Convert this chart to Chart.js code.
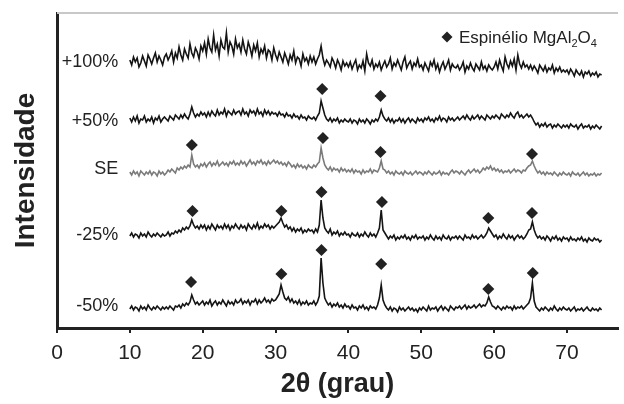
<!DOCTYPE html>
<html>
<head>
<meta charset="utf-8">
<script src="https://cdn.jsdelivr.net/npm/chart.js@4/dist/chart.umd.min.js"></script>
<style>
  body { margin: 0; background: #fff; }
  canvas { display: block; }
</style>
</head>
<body>
<canvas id="xrdChart" width="624" height="404"></canvas>
<script>
// 2-theta grid of the scans: 10.00 to 74.75 deg, every 0.25 deg
const twoTheta = Array.from({ length: 260 }, (_, i) => 10 + i * 0.25);

// intensities (arbitrary units, curves already stacked)
// one row = 5 degrees
const plus100 = [
  268,263,271,266,270,261,265,272,267,262,273,269,264,270,275,266,272,268,263,271,
  274,268,272,277,266,275,270,281,273,268,279,274,270,284,275,271,280,276,269,282,
  277,285,274,289,280,276,293,278,284,272,288,281,279,295,276,286,282,274,289,280,
  284,276,288,279,274,286,280,272,283,277,285,271,279,275,282,270,278,276,268,280,
  273,268,276,271,266,275,270,264,273,268,277,265,271,269,262,274,267,270,264,272,
  266,271,264,269,273,282,270,263,268,265,261,270,266,260,268,264,258,267,262,265,
  261,266,259,264,268,258,263,260,267,257,274,265,262,268,259,264,261,266,258,263,
  267,261,264,270,259,265,262,268,263,258,266,271,260,264,267,259,265,262,269,261,
  263,258,265,261,257,266,262,268,259,264,256,262,266,259,263,268,258,264,261,260,
  263,258,261,266,256,262,259,265,260,257,264,261,258,266,259,262,257,263,260,258,
  261,266,259,268,262,257,271,264,260,267,262,269,258,273,264,260,266,261,263,259,
  263,258,262,259,255,263,260,257,262,256,260,258,263,255,260,257,261,256,258,256,
  258,254,259,256,252,258,255,253,257,251,256,254,257,252,255,253,256,251,254,253
];
const plus50 = [
  210,206,211,207,212,205,209,208,212,206,209,207,211,205,210,208,212,206,209,211,
  209,207,212,210,208,213,211,209,213,210,214,211,209,214,221,215,211,214,212,216,
  213,215,211,216,212,217,214,212,218,213,216,214,219,212,217,215,213,218,214,216,
  217,213,219,214,216,212,218,215,217,213,219,214,216,212,218,214,217,213,216,214,
  215,212,216,213,214,211,215,212,213,210,214,211,212,209,213,210,211,208,212,210,
  209,211,208,212,215,227,220,213,209,207,210,206,209,207,210,205,208,206,209,207,
  206,209,205,208,207,204,209,206,208,205,209,207,204,208,206,209,207,211,218,212,
  209,207,210,206,209,205,208,207,210,206,209,205,208,210,206,209,207,205,210,207,
  209,206,210,208,211,207,209,206,210,208,212,207,210,209,206,211,208,210,207,209,
  211,208,210,212,209,213,210,208,212,209,211,213,209,212,210,208,213,211,209,212,
  210,213,211,209,214,212,210,213,211,215,212,210,214,216,211,213,210,212,214,211,
  213,210,206,203,205,201,204,202,205,201,203,204,200,203,201,204,202,200,203,201,
  203,200,204,202,201,203,199,202,204,200,202,201,203,199,202,200,203,201,199,202
];
const se = [
  156,153,157,154,156,152,157,155,153,156,154,157,153,156,155,152,157,154,156,153,
  155,158,156,159,157,155,160,158,161,159,162,160,163,161,173,164,161,163,160,164,
  162,165,161,164,166,162,165,163,167,162,164,166,163,165,162,166,164,167,163,165,
  163,167,164,166,162,165,168,164,166,163,167,165,168,164,166,163,167,164,166,168,
  165,167,164,166,163,165,162,166,164,161,163,160,164,161,163,160,162,159,163,161,
  160,163,161,164,166,180,170,163,160,158,161,157,160,158,159,156,160,157,159,156,
  158,156,159,155,158,156,157,154,158,155,157,156,159,155,158,157,156,160,167,159,
  158,155,157,154,156,153,157,155,154,156,153,157,155,154,156,153,155,157,154,156,
  155,153,156,154,157,155,153,156,154,155,157,153,156,154,155,153,156,158,155,157,
  156,154,157,155,153,156,158,155,157,159,156,158,155,157,160,158,161,159,162,158,
  160,157,159,156,158,155,157,156,158,155,157,159,156,158,157,155,158,157,160,162,
  163,167,162,158,155,157,154,156,153,156,154,155,153,156,154,152,155,153,156,154,
  153,155,152,156,154,153,155,152,154,156,153,155,152,154,153,155,152,154,153,155
];
const minus25 = [
  92,95,91,94,93,90,95,92,94,91,96,93,91,94,92,95,93,91,94,92,
  93,96,92,95,94,97,95,98,96,100,98,101,99,102,108,103,100,102,99,103,
  100,103,98,102,99,104,101,98,103,100,102,99,104,100,103,98,102,100,104,101,
  99,103,100,102,98,104,101,99,103,100,105,99,102,100,104,101,103,99,102,100,
  102,104,106,110,105,101,103,99,101,97,100,96,99,97,100,95,98,96,99,97,
  98,95,99,96,103,128,110,100,97,95,99,93,96,94,97,92,95,93,96,93,
  94,91,95,93,92,95,91,94,92,96,93,91,95,92,94,91,95,100,118,98,
  95,92,89,92,90,93,88,91,89,92,90,93,89,91,88,92,90,93,89,91,
  90,92,88,91,89,93,90,88,92,89,91,88,93,90,89,92,88,91,90,92,
  89,92,90,88,93,90,91,89,93,90,92,89,91,93,90,92,95,100,97,94,
  91,93,89,92,90,94,91,89,93,90,92,88,91,93,90,92,89,91,94,98,
  99,106,98,93,90,92,89,91,88,92,90,87,91,89,92,88,90,87,91,89,
  90,87,91,88,89,87,90,88,91,87,89,86,90,88,87,90,88,89,86,88
];
const minus50 = [
  19,22,18,21,20,17,22,19,21,18,23,20,18,21,19,22,20,18,21,19,
  21,19,22,20,18,22,21,23,20,24,22,25,23,26,33,28,24,26,23,25,
  27,23,26,24,28,22,25,27,23,26,24,28,25,22,27,24,26,23,28,25,
  26,29,24,27,25,28,23,27,26,29,24,28,25,27,30,26,28,25,29,27,
  28,31,34,43,36,30,28,31,26,29,25,27,24,28,23,26,24,27,23,25,
  24,27,23,26,32,70,45,30,26,23,25,21,24,22,25,21,23,20,24,21,
  22,19,23,20,21,18,22,20,23,19,21,18,22,20,21,19,23,30,43,28,
  23,20,18,21,17,20,19,16,21,18,20,17,19,21,18,20,17,19,16,20,
  18,21,19,17,22,18,20,19,21,17,20,22,18,21,19,17,22,20,18,21,
  20,22,19,21,23,19,22,20,21,23,20,22,24,21,23,22,25,31,26,22,
  21,19,22,20,18,21,19,22,20,21,18,22,19,21,20,22,19,21,23,25,
  30,45,27,21,19,17,20,18,21,19,17,20,18,22,19,17,20,18,21,19,
  18,20,17,19,21,17,19,18,20,17,19,21,18,17,20,18,19,17,20,18
];

// spinel reflections marked above each curve: [2theta, height]
const marksPlus50 = [[36.4, 239], [44.4, 232]];
const marksSE = [[18.5, 183], [36.5, 190], [44.4, 176], [65.2, 174]];
const marksMinus25 = [[18.6, 117], [30.8, 117], [36.3, 136], [44.6, 126], [59.2, 110], [65.2, 115]];
const marksMinus50 = [[18.4, 46], [30.8, 54], [36.3, 78], [44.5, 64], [59.2, 39], [65.3, 55]];

const sampleNames = ['+100%', '+50%', 'SE', '-25%', '-50%'];
const sampleLabelHeights = [266, 207, 159, 93, 22];

const FONT = '"Liberation Sans", Arial, Helvetica, sans-serif';

function toPoints(values) {
    return values.map((v, i) => ({ x: twoTheta[i], y: v }));
}

function curve(values, color) {
    return {
        data: toPoints(values),
        borderColor: color,
        borderWidth: 1.6,
        pointRadius: 0,
        tension: 0
    };
}

const markPoints = [].concat(marksPlus50, marksSE, marksMinus25, marksMinus50)
    .map(p => ({ x: p[0], y: p[1] }));

// labels, legend and the thin top frame line
const annotate = {
    id: 'annotate',
    afterDatasetsDraw(chart) {
        const { ctx, chartArea, scales: { x, y } } = chart;
        ctx.save();

        ctx.strokeStyle = '#c8c8c8';
        ctx.lineWidth = 2;
        ctx.beginPath();
        ctx.moveTo(chartArea.left, chartArea.top);
        ctx.lineTo(chartArea.right, chartArea.top);
        ctx.stroke();

        ctx.fillStyle = '#222';
        ctx.font = '18px ' + FONT;
        ctx.textAlign = 'right';
        ctx.textBaseline = 'middle';
        sampleNames.forEach((name, i) => {
            ctx.fillText(name, x.getPixelForValue(8.4), y.getPixelForValue(sampleLabelHeights[i]));
        });

        // legend: diamond + Espinélio MgAl2O4
        const lx = chartArea.right - 171;
        const ly = chartArea.top + 24;
        ctx.beginPath();
        ctx.moveTo(lx - 5.5, ly);
        ctx.lineTo(lx, ly - 5.5);
        ctx.lineTo(lx + 5.5, ly);
        ctx.lineTo(lx, ly + 5.5);
        ctx.closePath();
        ctx.fill();

        ctx.textAlign = 'left';
        ctx.textBaseline = 'alphabetic';
        let tx = lx + 12;
        const base = ly + 6;
        const parts = [['Espinélio MgAl', false], ['2', true], ['O', false], ['4', true]];
        parts.forEach(([txt, sub]) => {
            ctx.font = (sub ? '11px ' : '17px ') + FONT;
            ctx.fillText(txt, tx, sub ? base + 4 : base);
            tx += ctx.measureText(txt).width;
        });

        ctx.restore();
    }
};

new Chart(document.getElementById('xrdChart').getContext('2d'), {
    type: 'line',
    data: {
        datasets: [
            curve(plus100, '#141414'),
            curve(plus50, '#141414'),
            curve(se, '#7a7a7a'),
            curve(minus25, '#141414'),
            curve(minus50, '#141414'),
            {
                type: 'scatter',
                data: markPoints,
                showLine: false,
                pointStyle: 'rectRot',
                pointRadius: 6,
                backgroundColor: '#222',
                borderColor: '#222',
                borderWidth: 0
            }
        ]
    },
    options: {
        responsive: false,
        animation: false,
        events: [],
        layout: { padding: { top: 13, right: 0, bottom: 0, left: 0 } },
        plugins: {
            legend: { display: false },
            tooltip: { enabled: false }
        },
        scales: {
            x: {
                type: 'linear',
                min: 0,
                max: 77,
                afterFit: scale => { scale.height = 76; },
                ticks: {
                    stepSize: 10,
                    includeBounds: false,
                    color: '#222',
                    padding: 8,
                    font: { family: FONT, size: 21 },
                    maxRotation: 0
                },
                grid: {
                    drawOnChartArea: false,
                    drawTicks: true,
                    tickLength: 5,
                    color: '#222',
                    lineWidth: 2
                },
                border: { display: true, color: '#222', width: 3 },
                title: {
                    display: true,
                    text: '2θ (grau)',
                    color: '#222',
                    font: { family: FONT, size: 27, weight: 'bold' },
                    padding: { top: 0, bottom: 3 }
                }
            },
            y: {
                min: 0,
                max: 315,
                afterFit: scale => { scale.width = 57; },
                ticks: { display: false },
                grid: { display: false },
                border: { display: true, color: '#222', width: 3 },
                title: {
                    display: true,
                    text: 'Intensidade',
                    color: '#222',
                    font: { family: FONT, size: 28, weight: 'bold' },
                    padding: { top: 9, bottom: 0 }
                }
            }
        }
    },
    plugins: [annotate]
});
</script>
</body>
</html>
